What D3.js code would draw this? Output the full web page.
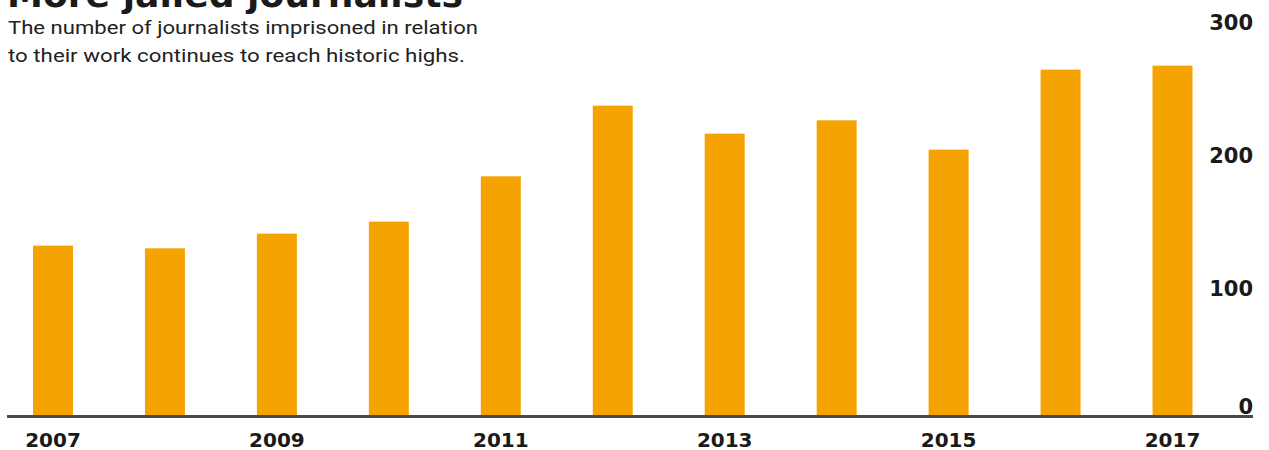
<!DOCTYPE html>
<html>
<head>
<meta charset="utf-8">
<script src="https://cdn.jsdelivr.net/npm/d3@7"></script>
<style>
  html, body { margin: 0; padding: 0; background: #ffffff; }
  svg { display: block; }
</style>
</head>
<body>
<svg id="chart" width="1269" height="450"></svg>
<script>
const years = ["2007","2008","2009","2010","2011","2012","2013","2014","2015","2016","2017"];
const jailed = [127, 125, 136, 145, 179, 232, 211, 221, 199, 259, 262];
const yTicks = [0, 100, 200, 300];
const xTickLabels = ["2007","2009","2011","2013","2015","2017"];
const titleText = "More jailed journalists";
const subtitleLines = [
  "The number of journalists imprisoned in relation",
  "to their work continues to reach historic highs."
];

const W = 1269, H = 450;
const svg = d3.select("#chart");

const x = d3.scaleBand().domain(years).range([33, 1192.5]).paddingInner(0.643).paddingOuter(0);
const y = d3.scaleLinear().domain([0, 300]).range([415, 15]);

// bars
svg.append("g").selectAll("rect")
  .data(years.map((yr, i) => ({ yr, v: jailed[i] })))
  .join("rect")
  .attr("x", d => x(d.yr))
  .attr("width", x.bandwidth())
  .attr("y", d => y(d.v))
  .attr("height", d => y(0) - y(d.v))
  .attr("fill", "#F4A300");

// baseline
svg.append("line")
  .attr("x1", 7).attr("x2", 1253)
  .attr("y1", y(0) + 1.5).attr("y2", y(0) + 1.5)
  .attr("stroke", "#4a4a4a").attr("stroke-width", 3);

// x axis labels
const xAxis = d3.axisBottom(x).tickValues(xTickLabels).tickSize(0).tickPadding(0);
const gx = svg.append("g").attr("transform", `translate(0, 447)`).call(xAxis);
gx.select(".domain").remove();
gx.selectAll("text")
  .attr("y", 0).attr("dy", 0)
  .attr("font-family", "DejaVu Sans, sans-serif")
  .attr("font-weight", "bold")
  .attr("font-size", "20px")
  .attr("fill", "#1a1a1a");

// y axis labels (right side)
const yAxis = d3.axisRight(y).tickValues(yTicks).tickSize(0).tickPadding(0).tickFormat(d3.format("d"));
const gy = svg.append("g").attr("transform", `translate(1253, 0)`).call(yAxis);
gy.select(".domain").remove();
gy.selectAll("text")
  .attr("x", 0)
  .attr("dy", d => d === 0 ? "-2" : "14")
  .attr("text-anchor", "end")
  .attr("font-family", "DejaVu Sans, sans-serif")
  .attr("font-weight", "bold")
  .attr("font-size", "21px")
  .attr("fill", "#1a1a1a");

// title (cut off at top)
svg.append("text")
  .attr("x", 7).attr("y", 7)
  .attr("font-family", "DejaVu Sans, sans-serif")
  .attr("font-weight", "bold")
  .attr("font-size", "36px")
  .attr("fill", "#1a1a1a")
  .attr("textLength", 456)
  .attr("lengthAdjust", "spacingAndGlyphs")
  .text(titleText);

// subtitle
const subWidths = [470, 457];
svg.append("g").selectAll("text")
  .data(subtitleLines)
  .join("text")
  .attr("x", 8)
  .attr("y", (d, i) => 34 + i * 28)
  .attr("font-family", "Roboto, sans-serif")
  .attr("font-size", "19px")
  .attr("fill", "#222")
  .attr("textLength", (d, i) => subWidths[i])
  .attr("lengthAdjust", "spacingAndGlyphs")
  .text(d => d);
</script>
</body>
</html>
